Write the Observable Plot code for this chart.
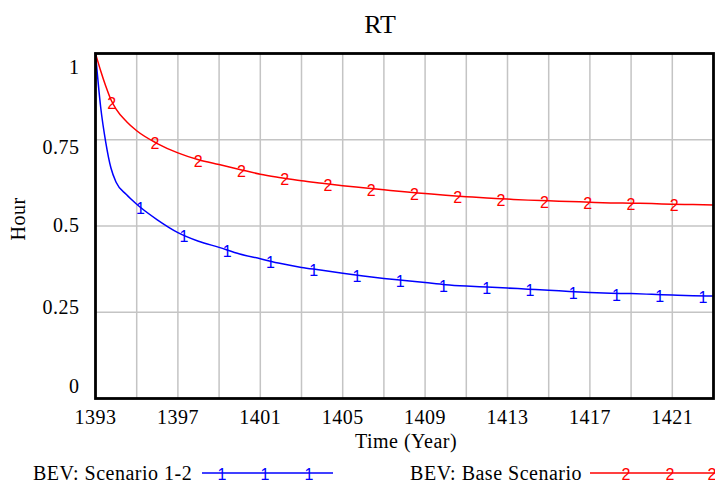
<!DOCTYPE html>
<html>
<head>
<meta charset="utf-8">
<script src="https://cdn.jsdelivr.net/npm/d3@7"></script>
<script src="https://cdn.jsdelivr.net/npm/@observablehq/plot@0.6"></script>
<style>
  body { margin: 0; background: #fff; }
  #chart svg { display: block; }
</style>
</head>
<body>
<div id="chart"></div>
<script>
// Response time (hours) for the BEV scenarios, 1393–1423
const title = "RT";
const xTitle = "Time (Year)";
const yTitle = "Hour";

const years = [1393, 1393.25, 1393.5, 1393.75, 1394, 1394.5, 1395, 1396, 1397, 1398, 1399, 1400,
  1401, 1402, 1403, 1404, 1405, 1406, 1407, 1408, 1409, 1410, 1411, 1412, 1413, 1414,
  1415, 1416, 1417, 1418, 1419, 1420, 1421, 1422, 1423];

const scenario12 = [1.0, 0.845, 0.742, 0.668, 0.627, 0.591, 0.563, 0.518, 0.481, 0.456, 0.438, 0.419,
  0.405, 0.391, 0.380, 0.372, 0.363, 0.355, 0.348, 0.342, 0.336, 0.330, 0.326, 0.323, 0.320, 0.317,
  0.314, 0.310, 0.307, 0.305, 0.304, 0.302, 0.300, 0.298, 0.297];

const baseScenario = [1.0, 0.95, 0.905, 0.866, 0.839, 0.803, 0.776, 0.739, 0.712, 0.692, 0.678, 0.664,
  0.650, 0.640, 0.631, 0.624, 0.617, 0.611, 0.605, 0.599, 0.594, 0.589, 0.585, 0.581, 0.578, 0.575,
  0.573, 0.571, 0.569, 0.567, 0.566, 0.565, 0.563, 0.562, 0.561];

const seriesNames = ["BEV: Scenario 1-2", "BEV: Base Scenario"];
const seriesGlyphs = ["1", "2"];

// where the numbered glyphs sit along each curve
const glyphYears12 = [1395.2, 1397.3, 1399.4, 1401.5, 1403.6, 1405.7, 1407.8, 1409.9, 1412.0, 1414.1, 1416.2, 1418.3, 1420.4, 1422.5];
const glyphYearsBase = [1393.8, 1395.9, 1398.0, 1400.1, 1402.2, 1404.3, 1406.4, 1408.5, 1410.6, 1412.7, 1414.8, 1416.9, 1419.0, 1421.1];

const xTickLabels = [1393, 1397, 1401, 1405, 1409, 1413, 1417, 1421];
const xGridYears = [1395, 1397, 1399, 1401, 1403, 1405, 1407, 1409, 1411, 1413, 1415, 1417, 1419, 1421];
const yTickLabels = [0, 0.25, 0.5, 0.75, 1];
const yGridValues = [0.25, 0.5, 0.75];

// styling
const colors = ["#0000ff", "#ff0000"];
const gridColor = "#c4c4c4";
const serif = "Liberation Serif, Times New Roman, serif";
const sans = "Liberation Sans, Arial, sans-serif";
// vertical nudges for the y tick labels (label spread is narrower than the axis)
const yLabelNudge = new Map([[1, 14], [0.75, 8], [0.5, 0], [0.25, -5], [0, -12]]);

const rows = (vals, series) => years.map((t, i) => ({t, v: vals[i], series}));
const data = [...rows(scenario12, seriesNames[0]), ...rows(baseScenario, seriesNames[1])];

// value of a series at year t, read along its polyline
function valueAt(vals, t) {
  const i = Math.max(0, d3.bisectRight(years, t) - 1);
  const j = Math.min(i + 1, years.length - 1);
  if (i === j) return vals[i];
  const f = (t - years[i]) / (years[j] - years[i]);
  return vals[i] + f * (vals[j] - vals[i]);
}
const glyphs = [
  ...glyphYears12.map(t => ({t, v: valueAt(scenario12, t), g: seriesGlyphs[0], series: seriesNames[0]})),
  ...glyphYearsBase.map(t => ({t, v: valueAt(baseScenario, t), g: seriesGlyphs[1], series: seriesNames[1]}))
];

const W = 715, H = 484;
const chart = Plot.plot({
  width: W,
  height: H,
  marginTop: 53,
  marginLeft: 95,
  marginRight: 2,
  marginBottom: 86,
  style: {fontFamily: serif, fontSize: "20px", background: "#fff", color: "#000", letterSpacing: "0.5px"},
  x: {domain: [1393, 1423], label: null},
  y: {domain: [0, 1], label: null},
  color: {domain: seriesNames, range: colors},
  marks: [
    Plot.gridX(xGridYears, {stroke: gridColor, strokeOpacity: 1, strokeWidth: 1.5}),
    Plot.gridY(yGridValues, {stroke: gridColor, strokeOpacity: 1, strokeWidth: 1.5}),
    Plot.line(data, {x: "t", y: "v", z: "series", stroke: "series", strokeWidth: 1.5, curve: "monotone-x"}),
    Plot.text(glyphs, {x: "t", y: "v", text: "g", fill: "series", fontFamily: sans, fontSize: 16, dy: 2}),
    Plot.frame({stroke: "#000", strokeWidth: 2.8}),
    Plot.axisX(xTickLabels, {tickSize: 0, tickPadding: 11, tickFormat: d => String(d), fontSize: 20, fontFamily: serif, label: null}),
    ...yTickLabels.map(v =>
      Plot.axisY([v], {tickSize: 0, tickPadding: 16, dy: yLabelNudge.get(v), tickFormat: d => String(d), fontSize: 20, fontFamily: serif, label: null})
    )
  ]
});
document.getElementById("chart").append(chart);

// title, axis titles and legend
const svg = d3.select(chart);
const addText = (sel, x, y, txt, size, anchor, family) =>
  sel.append("text")
    .attr("x", x).attr("y", y).attr("text-anchor", anchor)
    .style("font-family", family).style("font-size", size + "px").attr("fill", "#000").text(txt);

addText(svg, 380, 33, title, 26, "middle", serif).style("letter-spacing", "0px");
addText(svg, 406, 448, xTitle, 20, "middle", serif);
addText(svg, 0, 0, yTitle, 20, "middle", serif).attr("transform", "translate(25,219) rotate(-90)");

const legendItems = [
  {name: seriesNames[0], color: colors[0], glyph: seriesGlyphs[0], textX: 33, anchor: "start", x0: 202, x1: 333, marks: [222, 265, 309]},
  {name: seriesNames[1], color: colors[1], glyph: seriesGlyphs[1], textX: 582, anchor: "end", x0: 590, x1: 715, marks: [626, 670, 712]}
];
const legendBaseline = 480, legendLineY = 473;
for (const it of legendItems) {
  const g = svg.append("g");
  addText(g, it.textX, legendBaseline, it.name, 20, it.anchor, serif);
  g.append("line").attr("x1", it.x0).attr("x2", it.x1).attr("y1", legendLineY).attr("y2", legendLineY)
    .attr("stroke", it.color).attr("stroke-width", 1.5);
  for (const mx of it.marks) {
    addText(g, mx, legendLineY + 7, it.glyph, 16, "middle", sans).attr("fill", it.color).style("letter-spacing", "0px");
  }
}
</script>
</body>
</html>
